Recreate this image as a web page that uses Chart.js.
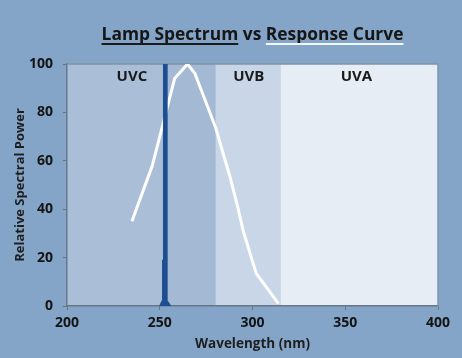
<!DOCTYPE html>
<html>
<head>
<meta charset="utf-8">
<script src="https://cdn.jsdelivr.net/npm/chart.js@4.4.0/dist/chart.umd.min.js"></script>
<style>
  html, body { margin: 0; padding: 0; background: #84a5c8; }
  canvas { display: block; }
</style>
</head>
<body>
<canvas id="spectrum" width="462" height="358"></canvas>
<script>
// wavelength bands (nm)
var bandStart = [200, 253, 280, 315];
var bandEnd = [253, 280, 315, 400];
var bandLabelNames = ["UVC", "UVB", "UVA"];
var bandLabelAt = [235, 298, 356];

// low pressure lamp, 254 nm line
var lampWavelength = [249.9, 251.5, 251.5, 252.0, 252.0, 253.8, 253.8, 256.0];
var lampPower = [0, 2.5, 19, 19, 100, 100, 2.5, 0];

// germicidal response curve
var responseWavelength = [235, 246, 258, 265, 269, 280, 288, 292, 295, 302, 314];
var responsePower = [35, 58, 94, 100, 96, 74, 53, 41, 31, 13.5, 1];

var xTicks = [200, 250, 300, 350, 400];
var yTicks = [0, 20, 40, 60, 80, 100];

var bandColors = ["#aabed8", "#a4b9d4", "#c8d6e7", "#e6edf5"];
var FONT = "'Open Sans', 'DejaVu Sans', sans-serif";

function toPoints(xs, ys) {
    return xs.map(function (x, i) { return { x: x, y: ys[i] }; });
}

var backdrop = {
    id: "backdrop",
    beforeDraw: function (chart) {
        var ctx = chart.ctx, a = chart.chartArea, xs = chart.scales.x;
        ctx.save();
        ctx.fillStyle = "#84a5c8";
        ctx.fillRect(0, 0, chart.width, chart.height);
        bandStart.forEach(function (s, i) {
            var x0 = xs.getPixelForValue(s), x1 = xs.getPixelForValue(bandEnd[i]);
            ctx.fillStyle = bandColors[i];
            ctx.fillRect(x0, a.top, x1 - x0, a.bottom - a.top);
        });
        ctx.restore();
    },
    beforeDatasetsDraw: function (chart) {
        var ctx = chart.ctx, a = chart.chartArea, xs = chart.scales.x;
        ctx.save();
        ctx.fillStyle = "#1a1a1a";
        ctx.font = "bold 15px " + FONT;
        ctx.textAlign = "center";
        ctx.textBaseline = "middle";
        bandLabelNames.forEach(function (n, i) {
            ctx.fillText(n, xs.getPixelForValue(bandLabelAt[i]), a.top + 13);
        });
        ctx.strokeStyle = "#8193a8";
        ctx.lineWidth = 1.5;
        ctx.beginPath();
        ctx.moveTo(a.left, a.top);
        ctx.lineTo(a.right, a.top);
        ctx.lineTo(a.right, a.bottom);
        ctx.stroke();
        ctx.restore();
    },
    afterDraw: function (chart) {
        var ctx = chart.ctx;
        var parts = ["Lamp Spectrum", " vs ", "Response Curve"];
        var lines = ["#1a1a1a", null, "#f4f7fb"];
        ctx.save();
        ctx.font = "bold 17.4px " + FONT;
        ctx.textBaseline = "alphabetic";
        ctx.fillStyle = "#161616";
        var widths = parts.map(function (p) { return ctx.measureText(p).width; });
        var total = widths.reduce(function (s, w) { return s + w; }, 0);
        var x = 252.5 - total / 2, y = 40;
        parts.forEach(function (p, i) {
            ctx.fillText(p, x, y);
            if (lines[i]) {
                ctx.fillStyle = lines[i];
                ctx.fillRect(x, y + 3, widths[i], 2);
                ctx.fillStyle = "#161616";
            }
            x += widths[i];
        });
        ctx.restore();
    }
};

new Chart("spectrum", {
    type: "scatter",
    data: {
        datasets: [
            {
                label: "Lamp Spectrum",
                data: toPoints(lampWavelength, lampPower),
                showLine: true,
                fill: "origin",
                backgroundColor: "#1d4f90",
                borderColor: "#1d4f90",
                borderWidth: 1,
                pointRadius: 0,
                tension: 0
            },
            {
                label: "Response Curve",
                data: toPoints(responseWavelength, responsePower),
                showLine: true,
                fill: false,
                borderColor: "#ffffff",
                borderWidth: 3,
                borderJoinStyle: "round",
                pointRadius: 0,
                tension: 0
            }
        ]
    },
    options: {
        responsive: false,
        animation: false,
        layout: { padding: { top: 64, right: 24, left: 0, bottom: 0 } },
        plugins: { legend: { display: false }, tooltip: { enabled: false } },
        scales: {
            x: {
                type: "linear",
                min: 200,
                max: 400,
                afterFit: function (s) { s.height = 52; },
                afterBuildTicks: function (s) { s.ticks = xTicks.map(function (v) { return { value: v }; }); },
                grid: { drawOnChartArea: false, tickLength: 4, color: "#667788", lineWidth: 1 },
                border: { color: "#667788", width: 1.5 },
                ticks: { color: "#141414", padding: 5, maxRotation: 0, font: { family: FONT, size: 14, weight: "bold" } },
                title: { display: true, text: "Wavelength (nm)", color: "#1e1e1e", padding: { top: 0, bottom: 6 }, font: { family: FONT, size: 13.5, weight: "bold" } }
            },
            y: {
                min: 0,
                max: 100,
                afterFit: function (s) { s.width = 67; },
                afterBuildTicks: function (s) { s.ticks = yTicks.map(function (v) { return { value: v }; }); },
                grid: { drawOnChartArea: false, tickLength: 4, color: "#667788", lineWidth: 1 },
                border: { color: "#667788", width: 1.5 },
                ticks: { color: "#141414", padding: 10, font: { family: FONT, size: 14, weight: "bold" } },
                title: { display: true, text: "Relative Spectral Power", color: "#1e1e1e", padding: { top: 12, bottom: 0 }, font: { family: FONT, size: 13, weight: "bold" } }
            }
        }
    },
    plugins: [backdrop]
});
</script>
</body>
</html>
